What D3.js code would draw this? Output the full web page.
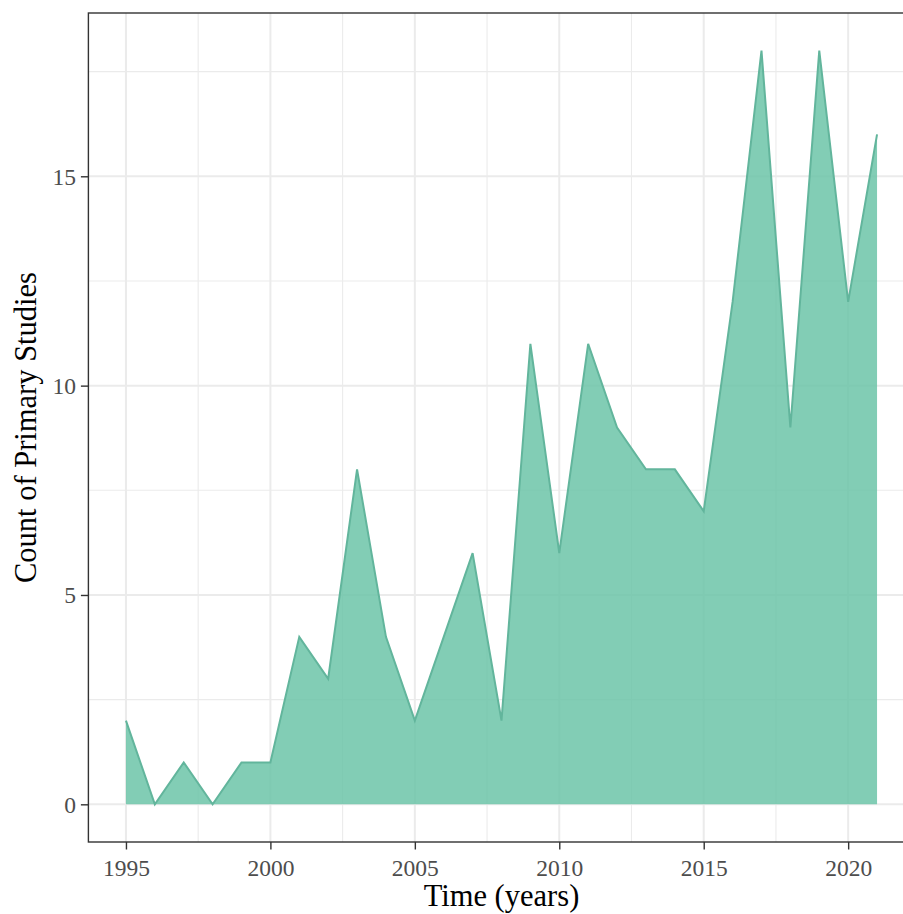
<!DOCTYPE html>
<html>
<head>
<meta charset="utf-8">
<script src="https://cdn.jsdelivr.net/npm/d3@7"></script>
<style>
  html, body { margin: 0; padding: 0; background: #fff; }
  svg { display: block; }
</style>
</head>
<body>
<svg id="chart" width="903" height="914"></svg>
<script>
const years = [1995,1996,1997,1998,1999,2000,2001,2002,2003,2004,2005,2006,2007,2008,2009,2010,2011,2012,2013,2014,2015,2016,2017,2018,2019,2020,2021];
const counts = [2,0,1,0,1,1,4,3,8,4,2,4,6,2,11,6,11,9,8,8,7,12,18,9,18,12,16];
const xTicks = [1995,2000,2005,2010,2015,2020];
const xMinor = [1997.5,2002.5,2007.5,2012.5,2017.5];
const yTicks = [0,5,10,15];
const yMinor = [2.5,7.5,12.5,17.5];
const xTitle = "Time (years)";
const yTitle = "Count of Primary Studies";

const data = years.map((y,i) => ({year: y, count: counts[i]}));

const svg = d3.select("#chart");
const panel = {left: 88.4, top: 13, right: 914.6, bottom: 842};

const xr = d3.extent(years), xpad = (xr[1]-xr[0])*0.05;
const yMax = d3.max(counts), ypad = yMax*0.05;
const x = d3.scaleLinear().domain([xr[0]-xpad, xr[1]+xpad]).range([panel.left, panel.right]);
const y = d3.scaleLinear().domain([-ypad, yMax+ypad]).range([panel.bottom, panel.top]);

const font = "'Liberation Serif', 'Times New Roman', serif";

// grid
const g = svg.append("g");
g.selectAll(".xminor").data(xMinor).enter().append("line")
  .attr("x1", d=>x(d)).attr("x2", d=>x(d)).attr("y1", panel.top).attr("y2", panel.bottom)
  .attr("stroke", "#EBEBEB").attr("stroke-width", 1.1);
g.selectAll(".yminor").data(yMinor).enter().append("line")
  .attr("x1", panel.left).attr("x2", panel.right).attr("y1", d=>y(d)).attr("y2", d=>y(d))
  .attr("stroke", "#EBEBEB").attr("stroke-width", 1.1);
g.selectAll(".xmajor").data(xTicks).enter().append("line")
  .attr("x1", d=>x(d)).attr("x2", d=>x(d)).attr("y1", panel.top).attr("y2", panel.bottom)
  .attr("stroke", "#EBEBEB").attr("stroke-width", 2);
g.selectAll(".ymajor").data(yTicks).enter().append("line")
  .attr("x1", panel.left).attr("x2", panel.right).attr("y1", d=>y(d)).attr("y2", d=>y(d))
  .attr("stroke", "#EBEBEB").attr("stroke-width", 2);

// area
const area = d3.area().x(d=>x(d.year)).y0(y(0)).y1(d=>y(d.count));
const line = d3.line().x(d=>x(d.year)).y(d=>y(d.count));
svg.append("path").datum(data).attr("d", area)
  .attr("fill", "#66C2A5").attr("fill-opacity", 0.82);
svg.append("path").datum(data).attr("d", line)
  .attr("fill", "none").attr("stroke", "#62B59C").attr("stroke-width", 2).attr("stroke-linejoin", "miter");

// panel border
svg.append("rect").attr("x", panel.left).attr("y", panel.top)
  .attr("width", panel.right-panel.left).attr("height", panel.bottom-panel.top)
  .attr("fill", "none").attr("stroke", "#333333").attr("stroke-width", 1.4);

// axes
const xAxis = d3.axisBottom(x).tickValues(xTicks).tickFormat(d3.format("d")).tickSizeInner(7.5).tickSizeOuter(0).tickPadding(5);
const yAxis = d3.axisLeft(y).tickValues(yTicks).tickFormat(d3.format("d")).tickSizeInner(7.5).tickSizeOuter(0).tickPadding(5);
const gx = svg.append("g").attr("transform", `translate(0,${panel.bottom})`).call(xAxis);
const gy = svg.append("g").attr("transform", `translate(${panel.left},0)`).call(yAxis);
[gx, gy].forEach(a => {
  a.select(".domain").remove();
  a.selectAll(".tick line").attr("stroke", "#333333").attr("stroke-width", 1.4);
  a.selectAll(".tick text").attr("fill", "#4D4D4D").attr("font-family", font).attr("font-size", 23.5);
});
gx.selectAll(".tick text").attr("dy", "0.9em");
gy.selectAll(".tick text").attr("dy", "0.34em");

// titles
svg.append("text").attr("x", (panel.left+panel.right)/2).attr("y", 906)
  .attr("text-anchor", "middle").attr("font-family", font).attr("font-size", 30.5).attr("fill", "#000")
  .text(xTitle);
svg.append("text").attr("transform", `translate(36,${(panel.top+panel.bottom)/2}) rotate(-90)`)
  .attr("text-anchor", "middle").attr("font-family", font).attr("font-size", 30.5).attr("fill", "#000")
  .text(yTitle);
</script>
</body>
</html>
